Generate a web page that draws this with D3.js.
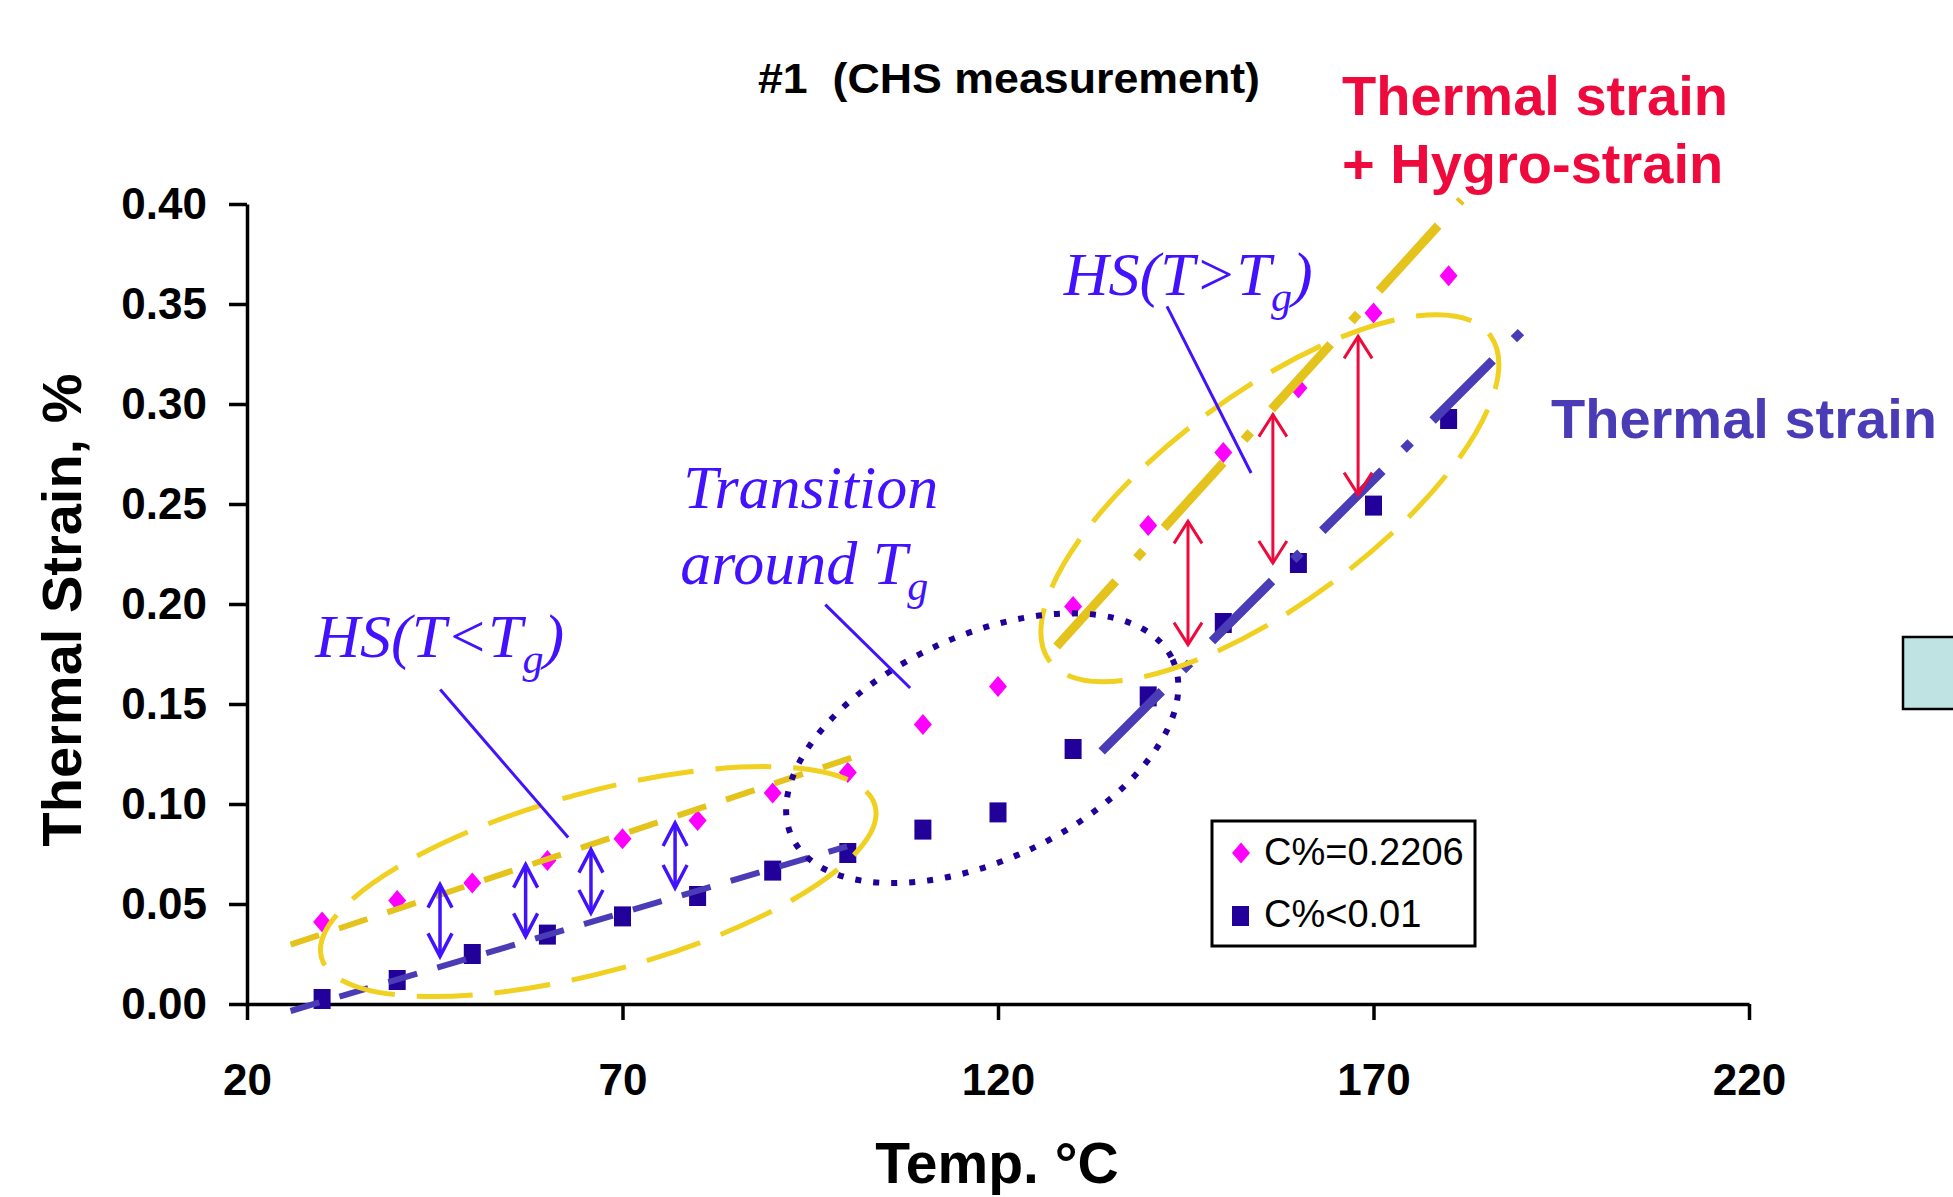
<!DOCTYPE html>
<html lang="en">
<head>
<meta charset="UTF-8">
<title>#1 (CHS measurement)</title>
<script src="https://d3js.org/d3.v7.min.js"></script>
<style>
  body { margin: 0; background: #fff; }
  svg { display: block; font-family: "Liberation Sans", Arial, sans-serif; }
</style>
</head>
<body>
<svg id="chart" width="1953" height="1197"></svg>
<script>
// measured data
const temps = [30, 40, 50, 60, 70, 80, 90, 100, 110, 120, 130, 140, 150, 160, 170, 180];
const strainWet = [0.041, 0.0517, 0.0605, 0.0718, 0.0826, 0.0918, 0.1055, 0.1158, 0.1397, 0.1588, 0.1988, 0.2393, 0.2758, 0.308, 0.3455, 0.3641];
const strainDry = [0.0025, 0.012, 0.025, 0.0347, 0.0438, 0.054, 0.0667, 0.0755, 0.0872, 0.0958, 0.1275, 0.1538, 0.1905, 0.2205, 0.2492, 0.2925];
const seriesNames = ["C%=0.2206", "C%<0.01"];
const xTicks = [20, 70, 120, 170, 220];
const yTicks = [0, 0.05, 0.10, 0.15, 0.20, 0.25, 0.30, 0.35, 0.40];

// trend lines, [temp, strain] end points
const wetLowTrend = [[25.8, 0.0297], [102, 0.125]];
const dryLowTrend = [[25.8, -0.0035], [99.9, 0.0788]];
const wetHighTrend = [[127.8, 0.1788], [181.7, 0.402]];
const dryHighTrend = [[133.8, 0.1263], [190.4, 0.3388]];

// hygro-strain arrows: [temp, upper strain, lower strain]
const blueArrows = [[45.7, 0.0597, 0.0238], [57.1, 0.0697, 0.0338], [65.8, 0.0772, 0.0455], [77.0, 0.0905, 0.058]];
const redArrows = [[145.3, 0.2413, 0.1797], [156.6, 0.2947, 0.2205], [167.95, 0.3338, 0.2547]];

// ellipse centres [temp, strain]: low range, high range, transition
const ellipseCentres = [[66.77, 0.0612], [156.2, 0.2529], [117.9, 0.1279]];

// leader lines [temp, strain]
const leaders = [
  [[45.73, 0.1572], [62.77, 0.0832]],
  [[97.0, 0.1997], [108.3, 0.158]],
  [[142.5, 0.3488], [153.7, 0.2655]]
];

const svg = d3.select("#chart");
const x = d3.scaleLinear().domain([20, 220]).range([247, 1749]);
const y = d3.scaleLinear().domain([0, 0.4]).range([1004, 204]);

const gold = "#e3c31c";
const goldLight = "#f0d020";
const navy = "#22009a";
const slate = "#4a3cb6";
const blue = "#4212ff";
const red = "#ee0a3c";

// axes
const xAxis = svg.append("g")
  .attr("transform", `translate(0,${y(0)})`)
  .call(d3.axisBottom(x).tickValues(xTicks).tickSize(16).tickSizeOuter(0).tickPadding(44).tickFormat(d3.format("d")));
const yAxis = svg.append("g")
  .attr("transform", `translate(${x(20)},0)`)
  .call(d3.axisLeft(y).tickValues(yTicks).tickSize(18).tickSizeOuter(0).tickPadding(22).tickFormat(d3.format(".2f")));

[xAxis, yAxis].forEach(a => {
  a.attr("font-size", 44).attr("font-weight", "bold").attr("font-family", "'Liberation Sans', Arial, sans-serif");
  a.select(".domain").attr("stroke", "#000").attr("stroke-width", 3.5);
  a.selectAll(".tick line").attr("stroke", "#000").attr("stroke-width", 3.5);
  a.selectAll(".tick text").attr("fill", "#000");
});

// markers
const diamond = (cx, cy) => `M${cx},${cy - 10.5}L${cx + 9},${cy}L${cx},${cy + 10.5}L${cx - 9},${cy}Z`;

svg.append("g").selectAll("path")
  .data(temps)
  .enter().append("path")
  .attr("d", (t, i) => diamond(x(t), y(strainWet[i])))
  .attr("fill", "#ff00ff");

svg.append("g").selectAll("rect")
  .data(temps)
  .enter().append("rect")
  .attr("x", (t) => x(t) - 8.5)
  .attr("y", (t, i) => y(strainDry[i]) - 10)
  .attr("width", 17)
  .attr("height", 20)
  .attr("fill", navy);

// trend lines
const line = d3.line().x(d => x(d[0])).y(d => y(d[1]));
function trend(pts, color, width, dash) {
  svg.append("path")
    .attr("d", line(pts))
    .attr("fill", "none")
    .attr("stroke", color)
    .attr("stroke-width", width)
    .attr("stroke-dasharray", dash);
}
trend(wetLowTrend, gold, 6, "30,21");
trend(dryLowTrend, slate, 6, "30,21");
trend(wetHighTrend, gold, 9, "88,31,10,31");
trend(dryHighTrend, slate, 9, "85,30,10,31");

// ellipses
const ellipseStyle = [
  { rx: 287, ry: 89.5, angle: -15.35, color: goldLight, width: 5, dash: "56,22" },
  { rx: 274, ry: 105, angle: -36.5, color: goldLight, width: 5, dash: "56,22" },
  { rx: 210, ry: 112, angle: -25, color: navy, width: 6, dash: "6,12" }
];
ellipseCentres.forEach((c, i) => {
  const s = ellipseStyle[i];
  svg.append("ellipse")
    .attr("transform", `translate(${x(c[0])},${y(c[1])}) rotate(${s.angle})`)
    .attr("rx", s.rx)
    .attr("ry", s.ry)
    .attr("fill", "none")
    .attr("stroke", s.color)
    .attr("stroke-width", s.width)
    .attr("stroke-dasharray", s.dash);
});

// double arrows
function doubleArrow(a, color, width, hw, len) {
  const px = x(a[0]), y1 = y(a[1]), y2 = y(a[2]);
  const g = svg.append("g").attr("stroke", color).attr("stroke-width", width).attr("fill", "none");
  g.append("line").attr("x1", px).attr("x2", px).attr("y1", y1).attr("y2", y2);
  g.append("polyline").attr("points", `${px - hw},${y1 + len} ${px},${y1} ${px + hw},${y1 + len}`);
  g.append("polyline").attr("points", `${px - hw},${y2 - len} ${px},${y2} ${px + hw},${y2 - len}`);
}
blueArrows.forEach(a => doubleArrow(a, blue, 3.5, 12, 23));
redArrows.forEach(a => doubleArrow(a, red, 3, 14, 22));

// leader lines
leaders.forEach(l => {
  svg.append("path").attr("d", line(l)).attr("stroke", blue).attr("stroke-width", 3).attr("fill", "none");
});

// italic annotations with subscript g
function tgLabel(tx, ty, head, tail) {
  const t = svg.append("text")
    .attr("x", x(tx)).attr("y", y(ty))
    .attr("font-family", "'Liberation Serif', 'Times New Roman', serif")
    .attr("font-style", "italic")
    .attr("font-size", 62)
    .attr("fill", blue);
  t.append("tspan").text(head);
  t.append("tspan").attr("font-size", 42).attr("dy", 16).text("g");
  if (tail) t.append("tspan").attr("dy", -16).text(tail);
}
tgLabel(29.1, 0.1735, "HS(T<T", ")");
tgLabel(128.76, 0.3547, "HS(T>T", ")");
svg.append("text")
  .attr("x", x(78.1)).attr("y", y(0.2478))
  .attr("font-family", "'Liberation Serif', 'Times New Roman', serif")
  .attr("font-style", "italic").attr("font-size", 62).attr("fill", blue)
  .text("Transition");
tgLabel(77.7, 0.21, "around T", null);

// legend
svg.append("rect")
  .attr("x", 1212).attr("y", 821).attr("width", 263).attr("height", 125)
  .attr("fill", "#fff").attr("stroke", "#000").attr("stroke-width", 3);
svg.append("path").attr("d", diamond(1241, 853)).attr("fill", "#ff00ff");
svg.append("rect").attr("x", 1232).attr("y", 906).attr("width", 17).attr("height", 20).attr("fill", navy);
seriesNames.forEach((n, i) => {
  svg.append("text")
    .attr("x", 1264).attr("y", i === 0 ? 865 : 927)
    .attr("font-size", 38).attr("fill", "#000")
    .text(n);
});

// titles and labels
svg.append("text")
  .attr("x", 758).attr("y", 93)
  .attr("font-size", 43).attr("font-weight", "bold")
  .attr("textLength", 502).attr("lengthAdjust", "spacingAndGlyphs")
  .style("white-space", "pre")
  .text("#1  (CHS measurement)");

svg.append("text")
  .attr("x", 997).attr("y", 1183)
  .attr("text-anchor", "middle")
  .attr("font-size", 57).attr("font-weight", "bold")
  .text("Temp. °C");

svg.append("text")
  .attr("transform", "translate(81,610) rotate(-90)")
  .attr("text-anchor", "middle")
  .attr("font-size", 56).attr("font-weight", "bold")
  .text("Thermal Strain, %");

svg.append("text")
  .attr("x", 1342).attr("y", 115)
  .attr("font-size", 56).attr("font-weight", "bold").attr("fill", red)
  .text("Thermal strain");
svg.append("text")
  .attr("x", 1342).attr("y", 183)
  .attr("font-size", 56).attr("font-weight", "bold").attr("fill", red)
  .text("+ Hygro-strain");

svg.append("text")
  .attr("x", 1551).attr("y", 438)
  .attr("font-size", 56).attr("font-weight", "bold").attr("fill", slate)
  .text("Thermal strain");

// partly visible box at right edge
svg.append("rect")
  .attr("x", 1903).attr("y", 637).attr("width", 80).attr("height", 72)
  .attr("fill", "#bfe3e3").attr("stroke", "#000").attr("stroke-width", 2.5);
</script>
</body>
</html>
